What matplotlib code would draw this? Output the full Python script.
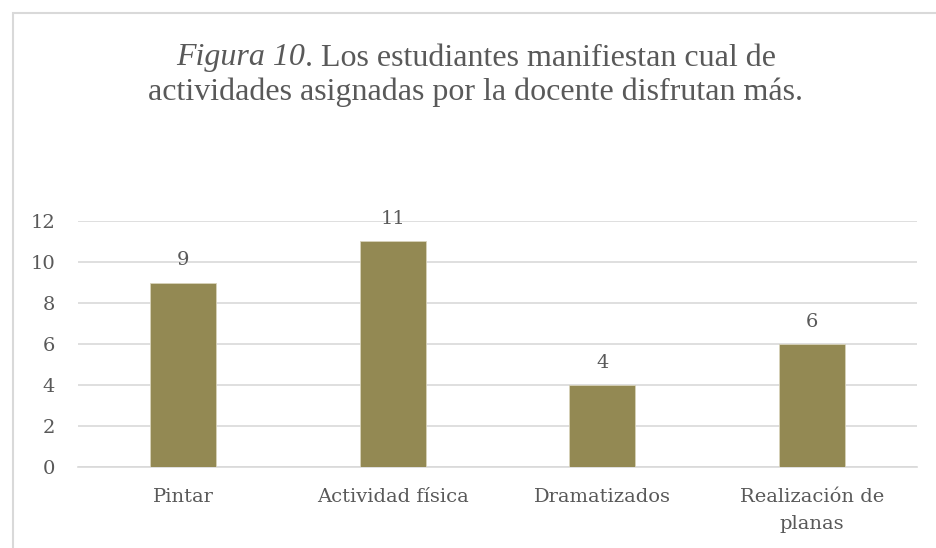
import matplotlib
matplotlib.use("Agg")
import matplotlib.pyplot as plt
from matplotlib.patches import Rectangle
from matplotlib.offsetbox import TextArea, HPacker, AnchoredOffsetbox

categories = ["Pintar", "Actividad física", "Dramatizados", "Realización de\nplanas"]
values = [9, 11, 4, 6]
yticks = [0, 2, 4, 6, 8, 10, 12]

W, H = 936, 548
fig = plt.figure(figsize=(W / 100, H / 100), dpi=100)
fig.patch.set_facecolor("white")

# outer chart border (top and left visible, right/bottom cut off)
fig.patches.append(Rectangle((12.5 / W, -0.05), 1.2, (H - 12.5) / H + 0.05,
                             transform=fig.transFigure, fill=False,
                             edgecolor="#d9d9d9", linewidth=1.5))

ax = fig.add_axes([78 / W, (H - 467) / H, (917 - 78) / W, (467 - 221) / H])
text_color = "#595959"
serif = ["DejaVu Serif"]
fs = 14

x = range(len(categories))
ax.bar(x, values, width=0.315, color="#938953", edgecolor="#d8d3bb",
       linewidth=0.6, zorder=3)
for xi, v in zip(x, values):
    ax.annotate(str(v), (xi, v), xytext=(0, 9.5), textcoords="offset points",
                ha="center", va="bottom", fontsize=fs, color=text_color,
                family=serif)

ax.set_xlim(-0.5, len(categories) - 0.5)
ax.set_ylim(0, 12)
ax.set_yticks(yticks)
ax.set_yticklabels([str(t) for t in yticks], family=serif, fontsize=fs,
                   color=text_color)
ax.set_xticks(list(x))
ax.set_xticklabels(categories, family=serif, fontsize=fs, color=text_color,
                   linespacing=1.65, va="top")
ax.tick_params(axis="both", length=0)
ax.tick_params(axis="y", pad=16.5)
ax.tick_params(axis="x", pad=15)
ax.grid(axis="y", color="#d9d9d9", linewidth=1.2, zorder=0)
for s in ["top", "right", "left"]:
    ax.spines[s].set_visible(False)
ax.spines["bottom"].set_color("#d9d9d9")
ax.spines["bottom"].set_linewidth(1.2)

# title
title_font = ["Liberation Serif"]
tfs = 23
cx = 476 / W
ta1 = TextArea("Figura 10", textprops=dict(family=title_font, fontsize=tfs,
                                          style="italic", color=text_color))
ta2 = TextArea(". Los estudiantes manifiestan cual de",
               textprops=dict(family=title_font, fontsize=tfs, color=text_color))
pack = HPacker(children=[ta1, ta2], align="baseline", pad=0, sep=0)
ab = AnchoredOffsetbox(loc="center", child=pack, frameon=False,
                       bbox_to_anchor=(cx, (H - 58) / H),
                       bbox_transform=fig.transFigure, borderpad=0, pad=0)
fig.add_artist(ab)
fig.text(cx, (H - 100) / H, "actividades asignadas por la docente disfrutan más.",
         ha="center", va="baseline", family=title_font, fontsize=tfs,
         color=text_color)

fig.savefig("out.png", dpi=100, facecolor="white")
